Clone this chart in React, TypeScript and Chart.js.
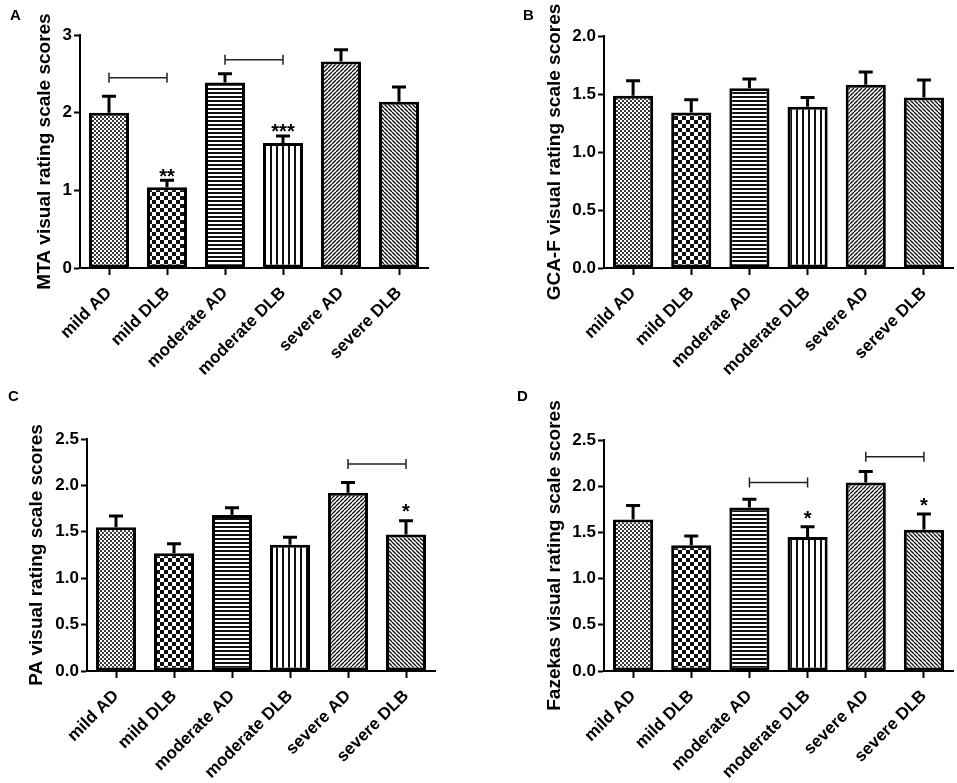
import { useEffect, useRef } from "react";
import { Chart, registerables, Plugin } from "chart.js";

Chart.register(...registerables);

const groups = ["mild AD", "mild DLB", "moderate AD", "moderate DLB", "severe AD", "severe DLB"];
const groupsB = ["mild AD", "mild DLB", "moderate AD", "moderate DLB", "severe AD", "sereve DLB"];

// means and upper SEM
const mtaMeans = [2.0, 1.04, 2.39, 1.61, 2.66, 2.14];
const mtaErr = [0.21, 0.09, 0.11, 0.09, 0.15, 0.19];
const gcaMeans = [1.485, 1.34, 1.55, 1.39, 1.58, 1.47];
const gcaErr = [0.13, 0.11, 0.08, 0.08, 0.11, 0.15];
const paMeans = [1.55, 1.27, 1.68, 1.36, 1.92, 1.47];
const paErr = [0.12, 0.1, 0.08, 0.08, 0.11, 0.15];
const fazMeans = [1.64, 1.36, 1.77, 1.45, 2.04, 1.53];
const fazErr = [0.15, 0.1, 0.09, 0.11, 0.12, 0.17];

// significance brackets: [from, to, height]
const mtaBrackets = [[0, 1, 2.45], [2, 3, 2.68]];
const paBrackets = [[4, 5, 2.23]];
const fazBrackets = [[2, 3, 2.04], [4, 5, 2.32]];

// stars: [index, text, height]
const mtaStars: [number, string, number][] = [[1, "**", 1.23], [3, "***", 1.82]];
const paStars: [number, string, number][] = [[5, "*", 1.77]];
const fazStars: [number, string, number][] = [[3, "*", 1.7], [5, "*", 1.84]];

const FONT = "'Liberation Sans', Arial, sans-serif";

const makePattern = (kind: string) => {
  const c = document.createElement("canvas");
  const g = c.getContext("2d")!;
  const paint = (w: number, h: number, ink = "#111") => {
    c.width = w;
    c.height = h;
    g.fillStyle = "#fff";
    g.fillRect(0, 0, w, h);
    g.fillStyle = ink;
    g.strokeStyle = ink;
  };
  switch (kind) {
    case "fine":
      paint(4, 4, "#3a3a3a");
      g.fillRect(0, 0, 2, 2);
      g.fillRect(2, 2, 2, 2);
      break;
    case "check":
      paint(8, 8);
      g.fillRect(0, 0, 4, 4);
      g.fillRect(4, 4, 4, 4);
      break;
    case "hlines":
      paint(4, 4);
      g.fillRect(0, 0, 4, 2);
      break;
    case "vlines":
      paint(6, 6);
      g.fillRect(0, 0, 2, 6);
      break;
    case "up":
      paint(4, 4);
      g.lineWidth = 1.3;
      for (const k of [-4, 0, 4]) {
        g.beginPath();
        g.moveTo(k, 4);
        g.lineTo(k + 4, 0);
        g.stroke();
      }
      break;
    default:
      paint(4, 4);
      g.lineWidth = 1.3;
      for (const k of [-4, 0, 4]) {
        g.beginPath();
        g.moveTo(k, 0);
        g.lineTo(k + 4, 4);
        g.stroke();
      }
  }
  return g.createPattern(c, "repeat")!;
};

interface PanelProps {
  letter: string;
  letterX: number;
  letterY: number;
  left: number;
  top: number;
  width: number;
  height: number;
  labels: string[];
  means: number[];
  err: number[];
  brackets: number[][];
  stars: [number, string, number][];
  yTitle: string;
  yMax: number;
  step: number;
  decimals: number;
  padTop: number;
  padRight: number;
  yWidth: number;
  xHeight: number;
  titlePad: number;
}

const annotations = (p: PanelProps): Plugin<"bar"> => ({
  id: "annot",
  afterDatasetsDraw(chart) {
    const ctx = chart.ctx;
    const xs = chart.scales.x;
    const ys = chart.scales.y;
    ctx.save();
    ctx.strokeStyle = "#000";
    ctx.lineCap = "butt";
    p.means.forEach((m, i) => {
      const x = xs.getPixelForValue(i);
      const y0 = ys.getPixelForValue(m);
      const y1 = ys.getPixelForValue(m + p.err[i]);
      ctx.lineWidth = 3;
      ctx.beginPath();
      ctx.moveTo(x, y0);
      ctx.lineTo(x, y1);
      ctx.moveTo(x - 7, y1);
      ctx.lineTo(x + 7, y1);
      ctx.stroke();
    });
    ctx.strokeStyle = "#222";
    ctx.lineWidth = 1.5;
    p.brackets.forEach(([a, b, v]) => {
      const x1 = xs.getPixelForValue(a);
      const x2 = xs.getPixelForValue(b);
      const y = ys.getPixelForValue(v);
      ctx.beginPath();
      ctx.moveTo(x1, y);
      ctx.lineTo(x2, y);
      ctx.moveTo(x1, y - 5);
      ctx.lineTo(x1, y + 5);
      ctx.moveTo(x2, y - 5);
      ctx.lineTo(x2, y + 5);
      ctx.stroke();
    });
    ctx.fillStyle = "#000";
    ctx.font = `bold 20px ${FONT}`;
    ctx.textAlign = "center";
    ctx.textBaseline = "alphabetic";
    p.stars.forEach(([i, t, v]) => {
      ctx.fillText(t, xs.getPixelForValue(i), ys.getPixelForValue(v) + 11);
    });
    ctx.restore();
  },
});

const Panel = (p: PanelProps) => {
  const ref = useRef<HTMLCanvasElement>(null);

  useEffect(() => {
    if (!ref.current) return;
    const fills = ["fine", "check", "hlines", "vlines", "up", "down"].map(makePattern);
    const chart = new Chart(ref.current, {
      type: "bar",
      data: {
        labels: p.labels,
        datasets: [
          {
            data: p.means,
            backgroundColor: fills,
            borderColor: "#000",
            borderWidth: 3,
            borderSkipped: false,
            barPercentage: 0.69,
            categoryPercentage: 1,
          },
        ],
      },
      options: {
        animation: false,
        responsive: false,
        events: [],
        layout: { padding: { left: 0, right: p.padRight, top: p.padTop, bottom: 0 } },
        plugins: { legend: { display: false }, tooltip: { enabled: false } },
        scales: {
          x: {
            grid: { offset: false, drawOnChartArea: false, tickLength: 7, tickWidth: 2, tickColor: "#000" },
            border: { color: "#000", width: 2 },
            ticks: {
              autoSkip: false,
              maxRotation: 45,
              minRotation: 45,
              padding: 8,
              color: "#000",
              font: { family: FONT, size: 17, weight: "bold" },
            },
            afterFit: (s) => {
              s.height = p.xHeight;
            },
          },
          y: {
            min: 0,
            max: p.yMax,
            grid: { drawOnChartArea: false, tickLength: 6, tickWidth: 2, tickColor: "#000" },
            border: { color: "#000", width: 2 },
            ticks: {
              stepSize: p.step,
              padding: 2,
              color: "#000",
              font: { family: FONT, size: 17, weight: "bold" },
              callback: (v) => Number(v).toFixed(p.decimals),
            },
            title: {
              display: true,
              text: p.yTitle,
              color: "#000",
              font: { family: FONT, size: 19, weight: "bold" },
              padding: { top: p.titlePad, bottom: 0 },
            },
            afterFit: (s) => {
              s.width = p.yWidth;
            },
          },
        },
      },
      plugins: [annotations(p)],
    });
    return () => chart.destroy();
  }, []);

  return (
    <div style={{ position: "absolute", left: p.left, top: p.top, width: p.width, height: p.height }}>
      <canvas ref={ref} width={p.width} height={p.height} style={{ width: p.width, height: p.height }} />
      <div
        style={{
          position: "absolute",
          left: p.letterX,
          top: p.letterY,
          font: `bold 15px ${FONT}`,
          lineHeight: "15px",
          color: "#000",
        }}
      >
        {p.letter}
      </div>
    </div>
  );
};

export default function App() {
  return (
    <div style={{ position: "absolute", left: 0, top: 0, width: 957, height: 783, background: "#fff" }}>
      <Panel letter="A" letterX={10} letterY={7} left={0} top={0} width={478} height={390}
        labels={groups} means={mtaMeans} err={mtaErr} brackets={mtaBrackets} stars={mtaStars}
        yTitle="MTA visual rating scale scores" yMax={3} step={1} decimals={0}
        padTop={35} padRight={50} yWidth={80} xHeight={122} titlePad={33.6} />
      <Panel letter="B" letterX={45} letterY={7} left={478} top={0} width={479} height={390}
        labels={groupsB} means={gcaMeans} err={gcaErr} brackets={[]} stars={[]}
        yTitle="GCA-F visual rating scale scores" yMax={2} step={0.5} decimals={1}
        padTop={36} padRight={4} yWidth={126} xHeight={122} titlePad={65.6} />
      <Panel letter="C" letterX={8} letterY={-2} left={0} top={390} width={478} height={393}
        labels={groups} means={paMeans} err={paErr} brackets={paBrackets} stars={paStars}
        yTitle="PA visual rating scale scores" yMax={2.5} step={0.5} decimals={1}
        padTop={49} padRight={43} yWidth={87} xHeight={112} titlePad={25.6} />
      <Panel letter="D" letterX={39} letterY={-2} left={478} top={390} width={479} height={393}
        labels={groups} means={fazMeans} err={fazErr} brackets={fazBrackets} stars={fazStars}
        yTitle="Fazekas visual rating scale scores" yMax={2.5} step={0.5} decimals={1}
        padTop={50} padRight={4} yWidth={126} xHeight={112} titlePad={65.6} />
    </div>
  );
}
